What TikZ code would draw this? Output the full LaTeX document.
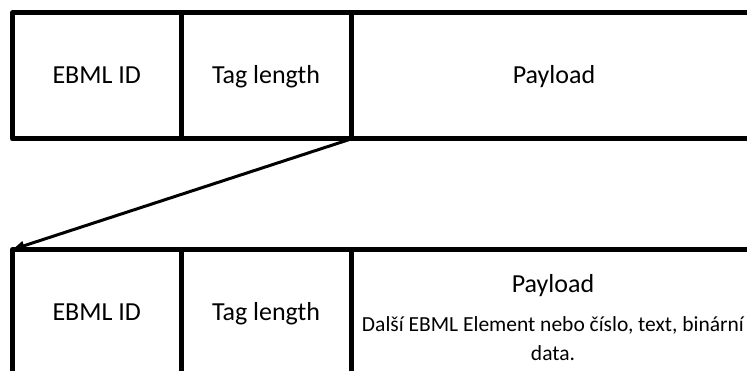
\documentclass[tikz,border=0pt]{standalone}
\usepackage{fontspec}
\setmainfont{Carlito}
\usetikzlibrary{arrows.meta}
\tikzset{
  cell/.style={draw=black, line width=5pt, line join=round, outer sep=0pt, inner sep=0pt,
               minimum height=126.5pt, text height=19pt, text depth=4pt,
               font=\fontsize{26}{30}\selectfont},
  lbl/.style={inner sep=0pt, outer sep=0pt},
  link/.style={line width=3pt, -{Triangle[length=12pt,width=9pt]}}
}
\begin{document}
\begin{tikzpicture}[x=1pt,y=-1pt]
\useasboundingbox (0,0) rectangle (747,371);
\clip (0,0) rectangle (747,371);
% top row
\node[cell, minimum width=168.5pt] (a1) at (96.75,75.75) {EBML ID};
\node[cell, minimum width=170pt] (b1) at (266,75.75) {Tag length};
\node[cell, minimum width=406pt] (c1) at (554,75.75) {Payload};
% bottom row
\node[cell, minimum width=168.5pt] (a2) at (96.75,312.75) {EBML ID};
\node[cell, minimum width=170pt] (b2) at (266,312.75) {Tag length};
\node[cell, minimum width=406pt] (c2) at (554,312.75) {};
\node[lbl, anchor=base, font=\fontsize{26}{30}\selectfont] (p2) at (553,292.5) {Payload};
\node[lbl, anchor=base, align=center, font=\fontsize{21.5}{28.5}\selectfont] (d2) at (553,360)
  {Další EBML Element nebo číslo, text, binární\\data.};
% connector
\draw[link] (c1.south west) -- (a2.north west);
\end{tikzpicture}
\end{document}
